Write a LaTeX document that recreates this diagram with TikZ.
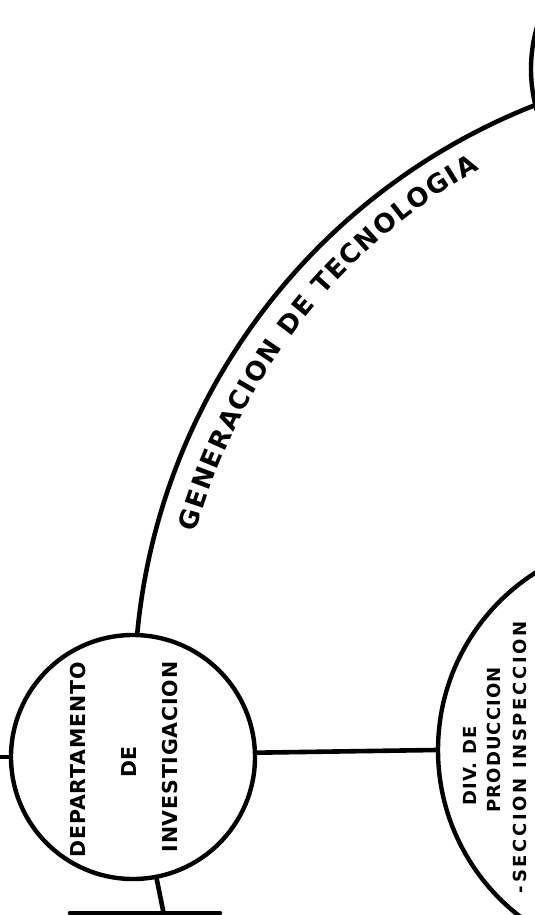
\documentclass[tikz,border=0pt]{standalone}
\usepackage{fontspec}
\setmainfont{DejaVu Sans}
\newfontfamily\rotulo[LetterSpace=4]{DejaVu Sans}
\newfontfamily\rotulodiv[LetterSpace=6]{DejaVu Sans}
\newfontfamily\rotuloancho[LetterSpace=15]{DejaVu Sans}
\usepackage{tikz}
\usetikzlibrary{calc,decorations.text}

\begin{document}
\begin{tikzpicture}[x=1pt,y=1pt,line cap=round,line join=round,
    circ@/.style={draw,circle,line width=4.4pt,inner sep=0pt},
    line@/.style={line width=4.6pt},
    txt@/.style={rotate=90,inner sep=0pt,
      font=\rotulo\bfseries\fontsize{20.5}{20.5}\selectfont},
    txtdiv@/.style={txt@,font=\rotulodiv\bfseries\fontsize{18}{18}\selectfont}]
  \useasboundingbox (0,0) rectangle (535,-915);
  % The research department.
  \node[circ@,minimum size=244pt] (dep) at (133,-757) {};
  \node[txt@] (dep-a) at (78,-760) {DEPARTAMENTO};
  \node[txt@] (dep-b) at (129,-762) {DE};
  \node[txt@] (dep-c) at (170,-757) {INVESTIGACION};

  % The production division, cut by the right margin.
  \node[circ@,minimum size=420pt] (div) at (648,-750) {};
  \node[txtdiv@] (div-a) at (470,-766) {DIV. DE};
  \node[txtdiv@] (div-b) at (494,-740) {PRODUCCION};
  \node[txtdiv@,font=\rotuloancho\bfseries\fontsize{18}{18}\selectfont]
    (div-c) at (520,-757) {-SECCION INSPECCION};

  % The circle at the top right.
  \node[circ@,minimum size=300pt] (top) at (681,-69) {};

  % Connectors.
  \coordinate (izq) at (-6,-757);
  \coordinate (abajo) at (165,-920);
  \coordinate (caja-a) at (70,-913);
  \coordinate (caja-b) at (220,-913);
  \draw[line@] (izq) -- (dep.west);
  \draw[line@] (dep.2) -- (div.west);
  \draw[line@] (dep.-79) -- (abajo);
  \draw[line@] (caja-a) -- (caja-b);
  \draw[line@] (dep.88) to[bend left=31.5,looseness=.92] (top.194);

  % The name of the big arc.
  \coordinate (c@) at (776,-693);
  \path[decorate,decoration={text along path,text align=fit to path,
      text={|\bfseries\fontsize{26}{26}\selectfont|GENERACION DE TECNOLOGIA}}]
    ($(c@)+(164.5:602)$) arc[start angle=164.5,end angle=119.5,radius=602];
\end{tikzpicture}
\end{document}
